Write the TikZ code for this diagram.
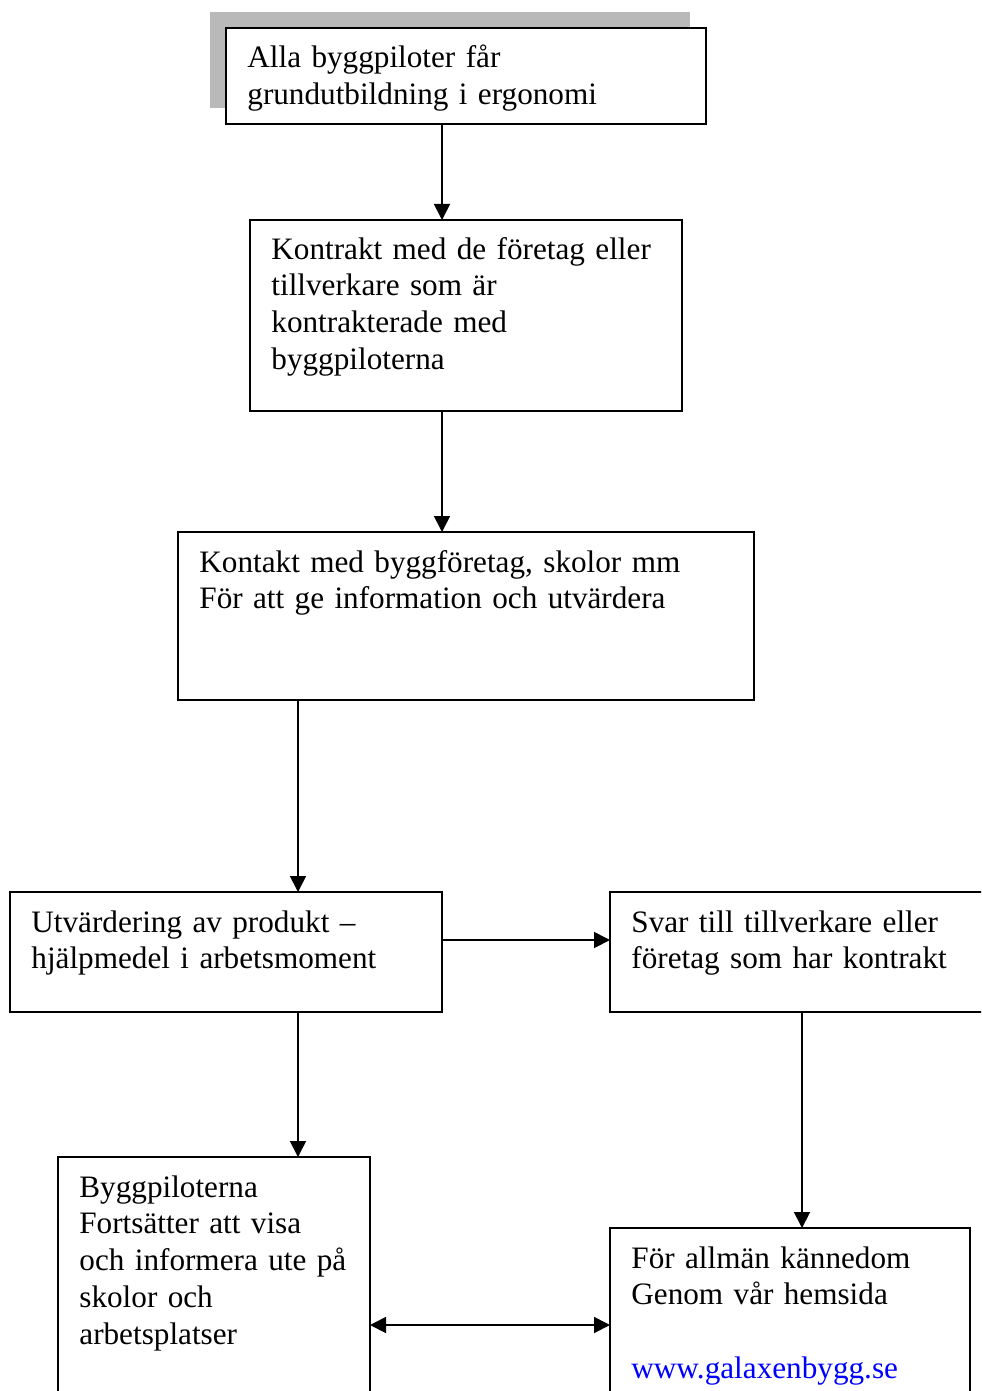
\documentclass[tikz,border=0pt]{standalone}
\usepackage{fontspec}
\setmainfont{Liberation Serif}
\usetikzlibrary{arrows.meta,shadows}

\tikzset{
  box/.style={draw, line width=1pt, anchor=north west, inner sep=0pt, outer sep=0pt, fill=white},
  txt/.style={anchor=base west, inner sep=0pt, text width=300pt, align=left,
    font=\fontsize{15.6}{18.4}\selectfont},
  tip/.style={Triangle[length=8pt,width=8pt]},
  flow/.style={line width=0.9pt, -{Triangle[length=8pt,width=8pt]}},
  twoway/.style={line width=0.9pt, {Triangle[length=8pt,width=8pt]}-{Triangle[length=8pt,width=8pt]}},
}

\begin{document}
\begin{tikzpicture}[x=0.5pt, y=-0.5pt]

    % Fix page to reference size
    \path[use as bounding box, clip] (0,0) rectangle (981,1391);

    % Draw boxes
    \node[box, minimum width=240pt, minimum height=48pt,
      drop shadow={shadow xshift=-8pt, shadow yshift=8pt, fill=gray!55, opacity=1}] (alla) at (226,28) {};
    \node[box, minimum width=216pt, minimum height=95.5pt] (kontrakt) at (250,220) {};
    \node[box, minimum width=288pt, minimum height=84pt] (kontakt) at (178,532) {};
    \node[box, minimum width=216pt, minimum height=60pt] (utv) at (10,892) {};
    \node[box, minimum width=220pt, minimum height=60pt] (svar) at (610,892) {};
    \node[box, minimum width=156pt, minimum height=150pt] (piloter) at (58,1157) {};
    \node[box, minimum width=180pt, minimum height=125pt] (allman) at (610,1228) {};

    % Texts in the boxes
    \node[txt] (allaT) at ([shift={(10.5pt,-20pt)}]alla.north west)
      {Alla byggpiloter får\\grundutbildning i ergonomi};
    \node[txt] (kontraktT) at ([shift={(10.5pt,-19.5pt)}]kontrakt.north west)
      {Kontrakt med de företag eller\\tillverkare som är\\kontrakterade med\\byggpiloterna};
    \node[txt] (kontaktT) at ([shift={(10.5pt,-20pt)}]kontakt.north west)
      {Kontakt med byggföretag, skolor mm\\För att ge information och utvärdera};
    \node[txt] (utvT) at ([shift={(10.5pt,-20pt)}]utv.north west)
      {Utvärdering av produkt –\\hjälpmedel i arbetsmoment};
    \node[txt] (svarT) at ([shift={(10.5pt,-20pt)}]svar.north west)
      {Svar till tillverkare eller\\företag som har kontrakt};
    \node[txt] (piloterT) at ([shift={(10.5pt,-20pt)}]piloter.north west)
      {Byggpiloterna\\Fortsätter att visa\\och informera ute på\\skolor och\\arbetsplatser};
    \node[txt] (allmanT) at ([shift={(10.5pt,-20pt)}]allman.north west)
      {För allmän kännedom\\Genom vår hemsida\\[18.4pt]\textcolor{blue}{www.galaxenbygg.se}};

    % Guide lines for the arrows
    \coordinate (mid) at (442,0);
    \coordinate (left) at (298,0);
    \coordinate (right) at (802,0);
    \coordinate (row) at (0,940);
    \coordinate (low) at (0,1325);

    % Draw arrows
    \draw[flow] (mid |- alla.south) -- (mid |- kontrakt.north);
    \draw[flow] (mid |- kontrakt.south) -- (mid |- kontakt.north);
    \draw[flow] (left |- kontakt.south) -- (left |- utv.north);
    \draw[flow] (utv.east |- row) -- (svar.west |- row);
    \draw[flow] (left |- utv.south) -- (left |- piloter.north);
    \draw[flow] (right |- svar.south) -- (right |- allman.north);
    \draw[twoway] (piloter.east |- low) -- (allman.west |- low);

\end{tikzpicture}
\end{document}
